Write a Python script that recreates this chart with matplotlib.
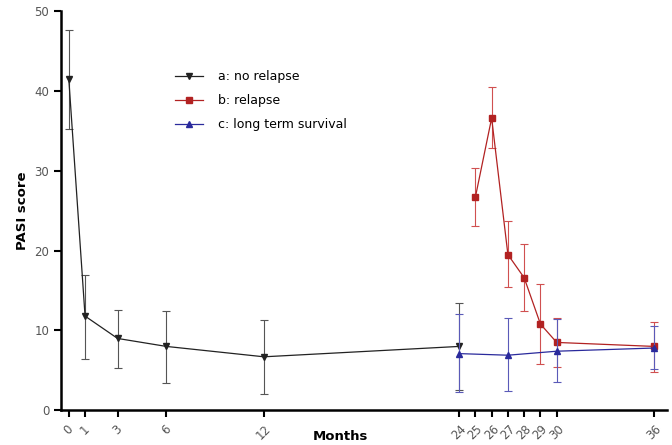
import matplotlib.pyplot as plt
from matplotlib.lines import Line2D
import numpy as np

# months and PASI scores
ticks = [0, 1, 3, 6, 12, 24, 25, 26, 27, 28, 29, 30, 36]

a_x = [0, 1, 3, 6, 12, 24]
a_y = [41.5, 11.8, 9.0, 8.0, 6.7, 8.0]
a_hi = [47.6, 17.0, 12.5, 12.4, 11.3, 13.4]
a_lo = [35.2, 6.4, 5.3, 3.4, 2.0, 2.6]

b_x = [25, 26, 27, 28, 29, 30, 36]
b_y = [26.7, 36.6, 19.5, 16.6, 10.8, 8.5, 8.0]
b_hi = [30.3, 40.5, 23.7, 20.8, 15.8, 11.5, 11.0]
b_lo = [23.1, 32.9, 15.4, 12.4, 5.8, 5.4, 4.8]

c_x = [24, 27, 30, 36]
c_y = [7.1, 6.9, 7.4, 7.8]
c_hi = [12.0, 11.5, 11.4, 10.6]
c_lo = [2.3, 2.4, 3.5, 5.2]


def err(y, hi, lo):
    y = np.array(y)
    return [y - np.array(lo), np.array(hi) - y]


fig = plt.figure(figsize=(6.72, 4.45), dpi=100)
ax = fig.add_axes([0.091, 0.078, 0.902, 0.897])

styles = [
    ('a: no relapse', a_x, a_y, a_hi, a_lo, '#222222', '#555555', 'v', 5, 3),
    ('b: relapse', b_x, b_y, b_hi, b_lo, '#b22222', '#d05050', 's', 4, 2),
    ('c: long term survival', c_x, c_y, c_hi, c_lo, '#2a2a9c', '#5a5ab8', '^', 5, 4),
]
handles = []
for lab, x, y, hi, lo, col, ecol, mk, ms, z in styles:
    ax.errorbar(x, y, yerr=err(y, hi, lo), color=col, ecolor=ecol, marker=mk, ms=ms,
                lw=0.9, elinewidth=0.8, capsize=3, capthick=0.8, zorder=z)
    handles.append(Line2D([], [], color=col, marker=mk, ms=ms, lw=0.9, label=lab))

ax.set_xlim(-0.47, 36.8)
ax.set_ylim(0, 50)
ax.set_xticks(ticks)
ax.set_xticklabels([str(t) for t in ticks], rotation=45, ha='center', color='#555555', fontsize=8.5)
ax.set_yticks(np.arange(0, 51, 10))
ax.tick_params(axis='y', labelsize=8.5, labelcolor='#555555', width=1.5, length=5)
ax.tick_params(axis='x', width=1.5, length=5, pad=4)

for s in ['top', 'right']:
    ax.spines[s].set_visible(False)
for s in ['left', 'bottom']:
    ax.spines[s].set_linewidth(1.8)

ax.set_ylabel('PASI score', fontsize=9.5, fontweight='bold', labelpad=4)
ax.set_xlabel('Months', fontsize=9.5, fontweight='bold')
ax.xaxis.set_label_coords(0.46, -0.05)

ax.legend(handles=handles, loc='upper left', bbox_to_anchor=(0.17, 0.88), frameon=False,
          fontsize=9, handlelength=2.2, handletextpad=1.2, labelspacing=0.88)

fig.savefig('out.png', dpi=100)
